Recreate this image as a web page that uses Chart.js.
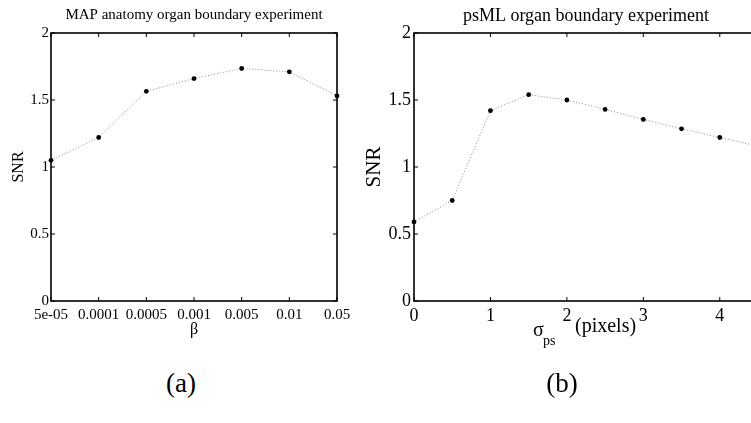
<!DOCTYPE html>
<html>
<head>
<meta charset="utf-8">
<script src="https://cdn.jsdelivr.net/npm/chart.js@4.4.0/dist/chart.umd.min.js"></script>
<style>
  body { margin: 0; width: 751px; height: 423px; overflow: hidden; background: #fff; position: relative; font-family: "Liberation Serif", serif; }
  #mapChart { position: absolute; left: 0; top: 0; }
  #psmlChart { position: absolute; left: 360px; top: 0; }
  .lbl { position: absolute; color: #000; line-height: 1; white-space: nowrap; }
  .caption { position: absolute; font-size: 27px; line-height: 1; transform: translate(-50%, -50%); }
</style>
</head>
<body>
<canvas id="mapChart" width="380" height="345"></canvas>
<canvas id="psmlChart" width="410" height="345"></canvas>

<span class="lbl" style="left:533px; top:319px; font-size:20px;">σ</span>
<span class="lbl" style="left:543px; top:334px; font-size:14px;">ps</span>
<span class="lbl" style="left:575px; top:315px; font-size:20px;">(pixels)</span>

<div class="caption" style="left:181px; top:383px;">(a)</div>
<div class="caption" style="left:562px; top:383px;">(b)</div>

<script>
// MAP experiment: SNR against beta
const mapBeta = ['5e-05', '0.0001', '0.0005', '0.001', '0.005', '0.01', '0.05'];
const mapSnr = [1.05, 1.22, 1.565, 1.66, 1.735, 1.71, 1.53];

// psML experiment: SNR against sigma_ps (pixels)
const psSigma = [0, 0.5, 1, 1.5, 2, 2.5, 3, 3.5, 4, 4.5];
const psSnr = [0.59, 0.75, 1.42, 1.54, 1.50, 1.43, 1.355, 1.285, 1.22, 1.155];

const snrTicks = [0, 0.5, 1, 1.5, 2];
const sigmaTicks = [0, 1, 2, 3, 4];

Chart.defaults.font.family = '"Liberation Serif", serif';
Chart.defaults.color = '#000';

// box round the plot area with short ticks pointing inwards
const frame = {
  id: 'frame',
  afterDraw(chart) {
    const { ctx, chartArea: a, scales: { x, y } } = chart;
    ctx.save();
    ctx.strokeStyle = '#000';
    ctx.lineWidth = 1;
    ctx.beginPath();
    x.ticks.forEach((t, i) => {
      const px = x.getPixelForTick(i);
      ctx.moveTo(px, a.bottom); ctx.lineTo(px, a.bottom - 4);
      ctx.moveTo(px, a.top); ctx.lineTo(px, a.top + 4);
    });
    y.ticks.forEach((t, i) => {
      const py = y.getPixelForTick(i);
      ctx.moveTo(a.left, py); ctx.lineTo(a.left + 4, py);
      ctx.moveTo(a.right, py); ctx.lineTo(a.right - 4, py);
    });
    ctx.stroke();
    ctx.lineWidth = 1.6;
    ctx.strokeRect(a.left, a.top, a.right - a.left, a.bottom - a.top);
    ctx.restore();
  }
};

function lineSet(data) {
  return {
    data: data,
    borderColor: '#8a8a8a',
    borderWidth: 1,
    borderDash: [1, 2],
    tension: 0,
    pointRadius: 2.4,
    pointBackgroundColor: '#000',
    pointBorderWidth: 0,
    clip: false
  };
}

function yScale(width, fontSize, titleSize, titlePad, tickPad) {
  return {
    min: 0,
    max: 2,
    afterBuildTicks: s => { s.ticks = snrTicks.map(v => ({ value: v })); },
    afterFit: s => { s.width = width; },
    grid: { display: false, drawTicks: false },
    border: { display: false },
    ticks: { font: { size: fontSize }, padding: tickPad, callback: v => String(v) },
    title: { display: true, text: 'SNR', font: { size: titleSize, lineHeight: 1 }, padding: { top: titlePad } }
  };
}

new Chart(document.getElementById('mapChart'), {
  type: 'line',
  data: { labels: mapBeta, datasets: [lineSet(mapSnr)] },
  options: {
    responsive: false,
    animation: false,
    layout: { padding: { left: 0, right: 43, top: 0, bottom: 0 } },
    plugins: {
      legend: { display: false },
      tooltip: { enabled: false },
      title: {
        display: true,
        fullSize: false,
        text: 'MAP anatomy organ boundary experiment',
        font: { size: 15, weight: 'normal', lineHeight: 1 },
        color: '#000',
        padding: { top: 8, bottom: 10 }
      }
    },
    scales: {
      x: {
        type: 'category',
        offset: false,
        afterFit: s => { s.height = 44; },
        grid: { display: false, drawTicks: false },
        border: { display: false },
        ticks: { font: { size: 15 }, padding: 5, maxRotation: 0, autoSkip: false },
        title: { display: true, text: 'β', font: { size: 16, lineHeight: 1 }, padding: { bottom: 7 } }
      },
      y: yScale(51, 15, 16, 11, 2)
    }
  },
  plugins: [frame]
});

new Chart(document.getElementById('psmlChart'), {
  type: 'line',
  data: { datasets: [lineSet(psSigma.map((s, i) => ({ x: s, y: psSnr[i] })))] },
  options: {
    responsive: false,
    animation: false,
    layout: { padding: { left: 0, right: 12, top: 0, bottom: 0 } },
    plugins: {
      legend: { display: false },
      tooltip: { enabled: false },
      title: {
        display: true,
        fullSize: false,
        text: 'psML organ boundary experiment',
        font: { size: 18, weight: 'normal', lineHeight: 1 },
        color: '#000',
        padding: { top: 7, bottom: 8 }
      }
    },
    scales: {
      x: {
        type: 'linear',
        min: 0,
        max: 4.5,
        afterBuildTicks: s => { s.ticks = sigmaTicks.map(v => ({ value: v })); },
        afterFit: s => { s.height = 44; },
        grid: { display: false, drawTicks: false },
        border: { display: false },
        ticks: { font: { size: 18 }, padding: 4, maxRotation: 0 }
      },
      y: yScale(54, 18, 21, 3.5, 3)
    }
  },
  plugins: [frame]
});
</script>
</body>
</html>
